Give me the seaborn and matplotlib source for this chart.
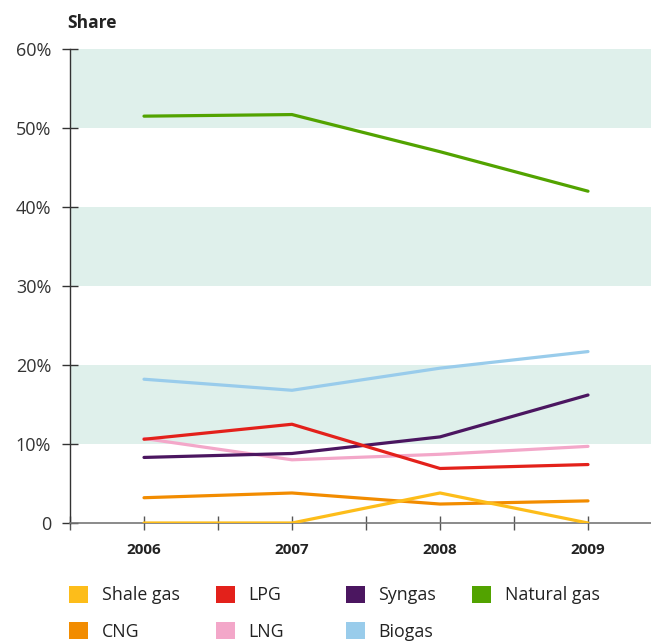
import pandas as pd
import matplotlib.pyplot as plt
import matplotlib.patches as mpatches
import seaborn as sns

years = [2006, 2007, 2008, 2009]
shale_gas = [0.0, 0.0, 3.8, 0.0]
cng = [3.2, 3.8, 2.4, 2.8]
lpg = [10.6, 12.5, 6.9, 7.4]
lng = [10.7, 8.0, 8.7, 9.7]
syngas = [8.3, 8.8, 10.9, 16.2]
biogas = [18.2, 16.8, 19.6, 21.7]
natural_gas = [51.5, 51.7, 47.0, 42.0]

series = {
    'Shale gas': shale_gas,
    'CNG': cng,
    'LPG': lpg,
    'LNG': lng,
    'Syngas': syngas,
    'Biogas': biogas,
    'Natural gas': natural_gas,
}
colors = {
    'Shale gas': '#FDBD1A',
    'CNG': '#F28C00',
    'LPG': '#E3211B',
    'LNG': '#F3A7C9',
    'Syngas': '#4B1660',
    'Biogas': '#99CCEB',
    'Natural gas': '#52A300',
}
y_ticks = [0, 10, 20, 30, 40, 50, 60]
y_labels = ['0', '10%', '20%', '30%', '40%', '50%', '60%']

rows = []
for name, vals in series.items():
    for yr, v in zip(years, vals):
        rows.append({'year': yr, 'share': v, 'fuel': name})
df = pd.DataFrame(rows)

sns.set_style('white')
plt.rcParams['font.family'] = ['Open Sans', 'DejaVu Sans']

fig = plt.figure(figsize=(6.51, 6.44), dpi=100)
ax = fig.add_axes([70 / 651, 1 - 523 / 644, 581 / 651, 474 / 644])

# shaded bands
for lo in (10, 30, 50):
    ax.axhspan(lo, lo + 10, color='#DFF0EB', lw=0, zorder=0)

# draw order so the overlaps look like the reference
order = ['Biogas', 'Natural gas', 'LNG', 'Syngas', 'LPG', 'CNG', 'Shale gas']
for name in order:
    sns.lineplot(data=df[df['fuel'] == name], x='year', y='share',
                 color=colors[name], lw=2.3, ax=ax, legend=False, zorder=3)

ax.set_xlim(2005.5, 2005.5 + 581 / 148)
ax.set_ylim(0, 60)
ax.set_xlabel('')
ax.set_ylabel('')

ax.set_yticks(y_ticks)
ax.set_yticklabels(y_labels, fontsize=13, color='#333333')
ax.set_xticks(years)
ax.set_xticklabels([str(y) for y in years], fontsize=11, fontweight='bold', color='#222222')
ax.set_xticks([2005.5, 2006.5, 2007.5, 2008.5], minor=True)

ax.tick_params(axis='y', which='major', direction='inout', length=11, width=1,
               color='#333333', pad=8, left=True)
ax.tick_params(axis='x', which='both', direction='inout', length=9.5, width=1,
               color='#555555', pad=10, bottom=True)

for s in ('top', 'right'):
    ax.spines[s].set_visible(False)
ax.spines['left'].set_color('#333333')
ax.spines['left'].set_linewidth(1)
ax.spines['bottom'].set_color('#777777')
ax.spines['bottom'].set_linewidth(1.2)

fig.text(67 / 651, 1 - 23 / 644, 'Share', fontsize=12.5, fontweight='bold',
         color='#222222', va='center', ha='left')

# legend, one column per group
legend_cols = [
    (69, ['Shale gas', 'CNG']),
    (216, ['LPG', 'LNG']),
    (346, ['Syngas', 'Biogas']),
    (472, ['Natural gas']),
]
for x0, names in legend_cols:
    handles = [mpatches.Patch(color=colors[n], label=n, lw=0) for n in names]
    fig.legend(handles=handles, loc='upper left',
               bbox_to_anchor=(x0 / 651, 1 - 586 / 644), frameon=False,
               fontsize=12.8, handlelength=1.08, handleheight=1.08,
               handletextpad=0.75, labelspacing=1.0, borderpad=0, borderaxespad=0,
               labelcolor='#222222')

fig.savefig('out.png', dpi=100)
